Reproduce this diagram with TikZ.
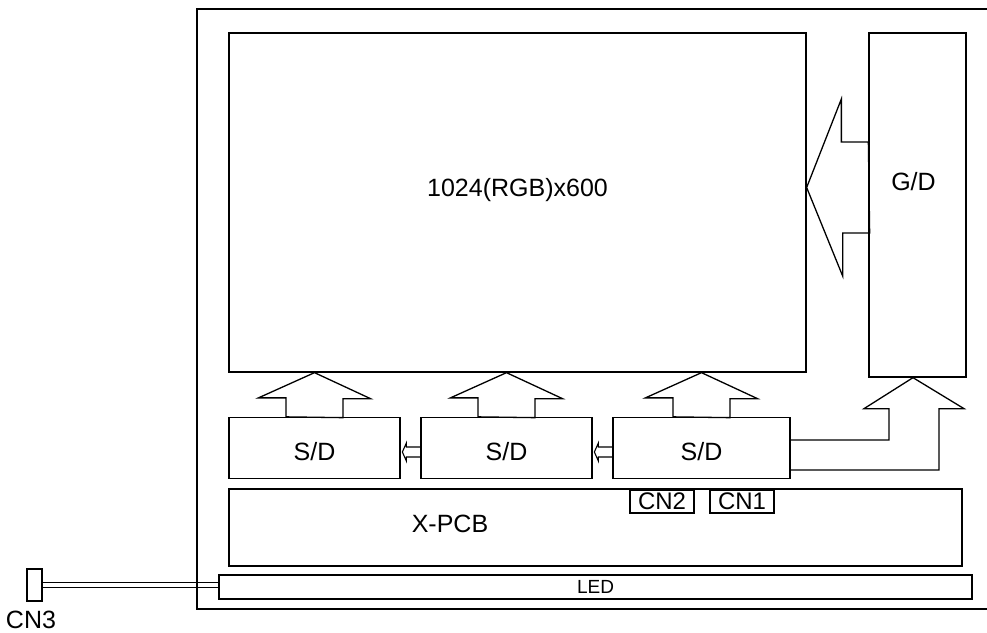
\documentclass[tikz,border=0pt]{standalone}
\usepackage{fontspec}
\setmainfont{Liberation Sans}
\usetikzlibrary{positioning, calc}
\tikzset{
  blk/.style={rectangle, draw=black, line width=1.3pt, inner sep=0pt,
    font=\fontsize{25}{30}\selectfont},
  conn/.style={blk, font=\fontsize{24}{28}\selectfont},
  lbl/.style={inner sep=0pt, font=\fontsize{25}{30}\selectfont},
  fatarrow/.style={draw=black, line width=1.3pt, line join=miter},
  smallarrow/.style={draw=black, line width=1.1pt, line join=miter},
  wire/.style={line width=1.3pt}
}
\begin{document}
\begin{tikzpicture}[x=1pt, y=-1pt]
  \useasboundingbox (0,0) rectangle (987,632);
  % Module frame (runs off the right edge)
  \node[blk, minimum width=803pt, minimum height=600pt] (frame) at (598.5,309) {};
  % Panel and drivers
  \node[blk, minimum width=577pt, minimum height=339pt] (panel) at (517.5,202.5) {};
  \node[lbl] (res) at ($(panel.center)+(0,-12)$) {1024(RGB)x600};
  \node[blk, minimum width=97pt, minimum height=344pt] (gd) at (917.5,205) {};
  \node[lbl] (gdtxt) at ($(gd.center)+(-4,-23)$) {G/D};
  \node[blk, minimum width=171pt, minimum height=61pt] (sd1) at (314.5,448) {};
  \node[blk, minimum width=171pt, minimum height=61pt] (sd2) at (506.5,448) {};
  \node[blk, minimum width=177pt, minimum height=61pt] (sd3) at (701.5,448) {};
  \foreach \s in {sd1,sd2,sd3}
    \node[lbl] (\s txt) at ($(\s.center)+(0,4)$) {S/D};
  % X-PCB and connectors
  \node[blk, minimum width=733pt, minimum height=77pt] (xpcb) at (595.5,527.5) {};
  \node[lbl] (xtxt) at (450,524) {X-PCB};
  \node[conn, minimum width=64pt, minimum height=23pt] (cn2) at (662,501.5) {CN2};
  \node[conn, minimum width=64pt, minimum height=23pt] (cn1) at (742,501.5) {CN1};
  % Backlight
  \node[blk, minimum width=753pt, minimum height=24pt,
    font=\fontsize{19}{22}\selectfont] (led) at (595.5,587) {LED};
  \node[blk, minimum width=15pt, minimum height=32pt] (cn3) at (34.5,585) {};
  \node[lbl, below=9pt of cn3, xshift=-3.5pt] (cn3txt) {CN3};

  % ── Source driver data into panel ─────────────────────────────────────────
  \foreach \s in {sd1,sd2,sd3}
    \draw[fatarrow] ($(\s.north)+(-28.5,0)$) -- ++(0,-19) -- ++(-27.5,0)
      -- (\s.north |- panel.south) -- ++(56,26) -- ++(-27.5,0) -- ++(0,19) -- cycle;

  % ── Cascade between source drivers ────────────────────────────────────────
  \foreach \a/\b in {sd1/sd2, sd2/sd3}
    \draw[smallarrow] ($(\b.west)+(0,-1)$) -- ++(-14,0) -- ++(0,-4)
      -- ($(\b.west)+(-18,4)$) -- ++(4,9) -- ++(0,-4) -- ++(14,0);

  % ── Gate driver into panel ────────────────────────────────────────────────
  \coordinate (gdm) at ($(gd.west)+(0,-17.5)$);
  \draw[fatarrow] ($(gdm)+(0,-45.5)$) -- ++(-27,0) -- ++(0,-43)
    -- (gdm -| panel.east) -- ++(36,88.5) -- ++(0,-43) -- ++(27,0) -- cycle;

  % ── Control from S/D to G/D ───────────────────────────────────────────────
  \coordinate (gtip) at ($(gd.south)+(-4.5,0)$);
  \draw[fatarrow] ($(sd3.east)+(0,-8)$) -| ($(gtip)+(-24,31)$) -- ++(-25,0)
    -- (gtip) -- ++(51,31) -- ++(-25,0) |- ($(sd3.east)+(0,22)$);

  % ── LED wires to CN3 ──────────────────────────────────────────────────────
  \foreach \dy in {-2.5,2.5}
    \draw[wire] ($(cn3.east)+(0,\dy)$) coordinate (w) -- (w -| led.west);
\end{tikzpicture}
\end{document}
